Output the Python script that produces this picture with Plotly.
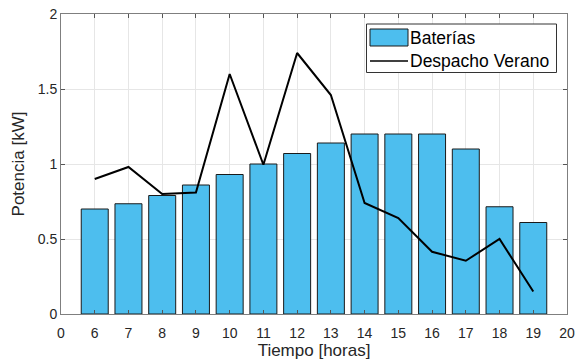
import plotly.graph_objects as go

# Hourly values
horas = [6, 7, 8, 9, 10, 11, 12, 13, 14, 15, 16, 17, 18, 19]
baterias = [0.70, 0.735, 0.79, 0.86, 0.93, 1.0, 1.07, 1.14, 1.2, 1.2, 1.2, 1.1, 0.715, 0.61]
despacho_verano = [0.90, 0.98, 0.80, 0.81, 1.60, 0.995, 1.74, 1.46, 0.74, 0.64, 0.415, 0.355, 0.50, 0.15]

# Tick labels: bars are drawn at index positions 1..N, with 0 and 20 at the ends
tick_labels = ["0"] + [str(h) for h in horas] + ["20"]
pos = list(range(1, len(horas) + 1))
tick_pos = list(range(0, len(horas) + 2))

BAR_COLOR = "#4DBEEE"
AX_COLOR = "#262626"
FONT = "Liberation Sans, Arial, sans-serif"

fig = go.Figure()
fig.add_trace(go.Bar(
    x=pos, y=baterias, width=0.8, name="Baterías",
    marker=dict(color=BAR_COLOR, line=dict(color="#1a1a1a", width=1)),
))
fig.add_trace(go.Scatter(
    x=pos, y=despacho_verano, mode="lines", name="Despacho Verano",
    line=dict(color="black", width=2),
))

axis_common = dict(
    showgrid=True, gridcolor="#e6e6e6", gridwidth=1,
    showline=True, linecolor="#7f7f7f", linewidth=1, mirror="ticks",
    ticks="inside", ticklen=4, tickcolor="#555555",
    tickfont=dict(family=FONT, size=14, color=AX_COLOR),
    zeroline=False, automargin=False,
)

fig.update_layout(
    width=587, height=364,
    margin=dict(l=61, r=20, t=14, b=50),
    paper_bgcolor="white", plot_bgcolor="white",
    showlegend=False,
    bargap=0.2,
    xaxis=dict(
        range=[0, len(horas) + 1], tickmode="array",
        tickvals=tick_pos, ticktext=tick_labels,
        ticklabelstandoff=6,
        title=dict(text="Tiempo [horas]", font=dict(family=FONT, size=17, color=AX_COLOR), standoff=4),
        **axis_common,
    ),
    yaxis=dict(
        range=[0, 2], tickmode="array",
        tickvals=[0, 0.5, 1, 1.5, 2], ticktext=["0", "0.5", "1", "1.5", "2"],
        title=dict(text="Potencia [kW]", font=dict(family=FONT, size=17, color=AX_COLOR), standoff=8),
        **axis_common,
    ),
)

# Legend box drawn in pixel-like paper coordinates
pw = 587 - 61 - 20
ph = 364 - 14 - 50

def px(x):
    return (x - 61) / pw

def py(y):
    return (364 - 50 - y) / ph

fig.add_shape(type="rect", xref="paper", yref="paper",
              x0=px(366.5), x1=px(556.5), y0=py(72.5), y1=py(24),
              line=dict(color="#333333", width=1), fillcolor="white", layer="above")
fig.add_shape(type="rect", xref="paper", yref="paper",
              x0=px(370), x1=px(408), y0=py(46), y1=py(29),
              line=dict(color="#1a1a1a", width=1), fillcolor=BAR_COLOR, layer="above")
fig.add_shape(type="line", xref="paper", yref="paper",
              x0=px(370), x1=px(408), y0=py(61), y1=py(61),
              line=dict(color="black", width=1.5), layer="above")
fig.add_annotation(xref="paper", yref="paper", x=px(408), y=py(37.5),
                   text="Baterías", showarrow=False, xanchor="left", yanchor="middle",
                   font=dict(family=FONT, size=17.5, color="black"))
fig.add_annotation(xref="paper", yref="paper", x=px(408), y=py(61),
                   text="Despacho Verano", showarrow=False, xanchor="left", yanchor="middle",
                   font=dict(family=FONT, size=17.5, color="black"))

fig.write_html("out.html")
